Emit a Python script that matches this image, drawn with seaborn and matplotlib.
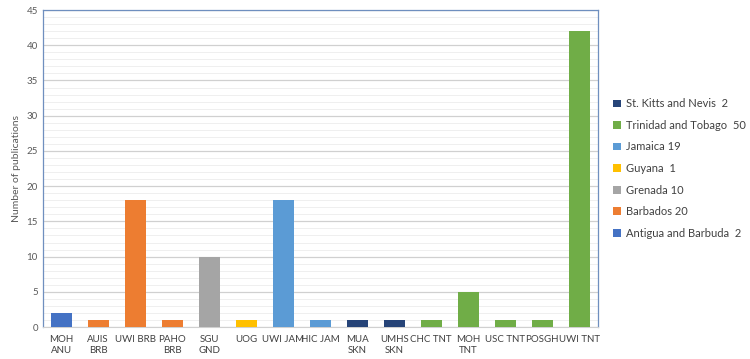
import matplotlib
matplotlib.use('Agg')
import matplotlib.pyplot as plt
import seaborn as sns
import pandas as pd
from matplotlib.ticker import MultipleLocator

institutions = ['MOH\nANU', 'AUIS\nBRB', 'UWI BRB', 'PAHO\nBRB', 'SGU\nGND', 'UOG', 'UWI JAM',
                'HIC JAM', 'MUA\nSKN', 'UMHS\nSKN', 'CHC TNT', 'MOH\nTNT', 'USC TNT', 'POSGH', 'UWI TNT']
publications = [2, 1, 18, 1, 10, 1, 18, 1, 1, 1, 1, 5, 1, 1, 42]
countries = ['Antigua and Barbuda  2', 'Barbados 20', 'Barbados 20', 'Barbados 20', 'Grenada 10',
             'Guyana  1', 'Jamaica 19', 'Jamaica 19', 'St. Kitts and Nevis  2', 'St. Kitts and Nevis  2',
             'Trinidad and Tobago  50', 'Trinidad and Tobago  50', 'Trinidad and Tobago  50',
             'Trinidad and Tobago  50', 'Trinidad and Tobago  50']
country_order = ['Antigua and Barbuda  2', 'Barbados 20', 'Grenada 10', 'Guyana  1',
                 'Jamaica 19', 'Trinidad and Tobago  50', 'St. Kitts and Nevis  2']
colores = ['#4472C4', '#ED7D31', '#A5A5A5', '#FFC000', '#5B9BD5', '#70AD47', '#264478']

df = pd.DataFrame({'inst': institutions, 'pubs': publications, 'pais': countries})

sns.set_style('white')
plt.rcParams['font.family'] = ['Lato', 'DejaVu Sans']

fig = plt.figure(figsize=(7.5, 3.59), dpi=100)
ax = fig.add_axes([0.057, 0.089, 0.74, 0.883])

sns.barplot(data=df, x='inst', y='pubs', hue='pais', hue_order=country_order,
            palette=colores, saturation=1, dodge=False, width=0.57, linewidth=0,
            ax=ax, zorder=3)

ax.set_ylim(0, 45)
ax.yaxis.set_major_locator(MultipleLocator(5))
ax.yaxis.set_minor_locator(MultipleLocator(1))
ax.grid(which='major', axis='y', color='#D0D0D0', linewidth=0.9, zorder=0)
ax.grid(which='minor', axis='y', color='#EDEDED', linewidth=0.6, zorder=0)
ax.set_axisbelow(True)

for lado in ['left', 'top', 'right']:
    ax.spines[lado].set_color('#6F8FBF')
    ax.spines[lado].set_linewidth(0.9)
ax.spines['bottom'].set_color('#D0D0D0')

ax.set_xlabel('')
ax.set_ylabel('Number of publications', fontsize=7.5, color='#595959')
ax.tick_params(axis='y', labelsize=7, labelcolor='#595959', length=0)
ax.tick_params(axis='x', labelsize=7, labelcolor='#404040', length=0, pad=6)

handles, labels = ax.get_legend_handles_labels()
ax.legend(handles[::-1], labels[::-1], loc='center left', bbox_to_anchor=(1.01, 0.5),
          frameon=False, fontsize=8, handlelength=0.7, handleheight=0.7,
          handletextpad=0.4, labelspacing=0.95, labelcolor='#404040')

plt.savefig('out.png', dpi=100)
